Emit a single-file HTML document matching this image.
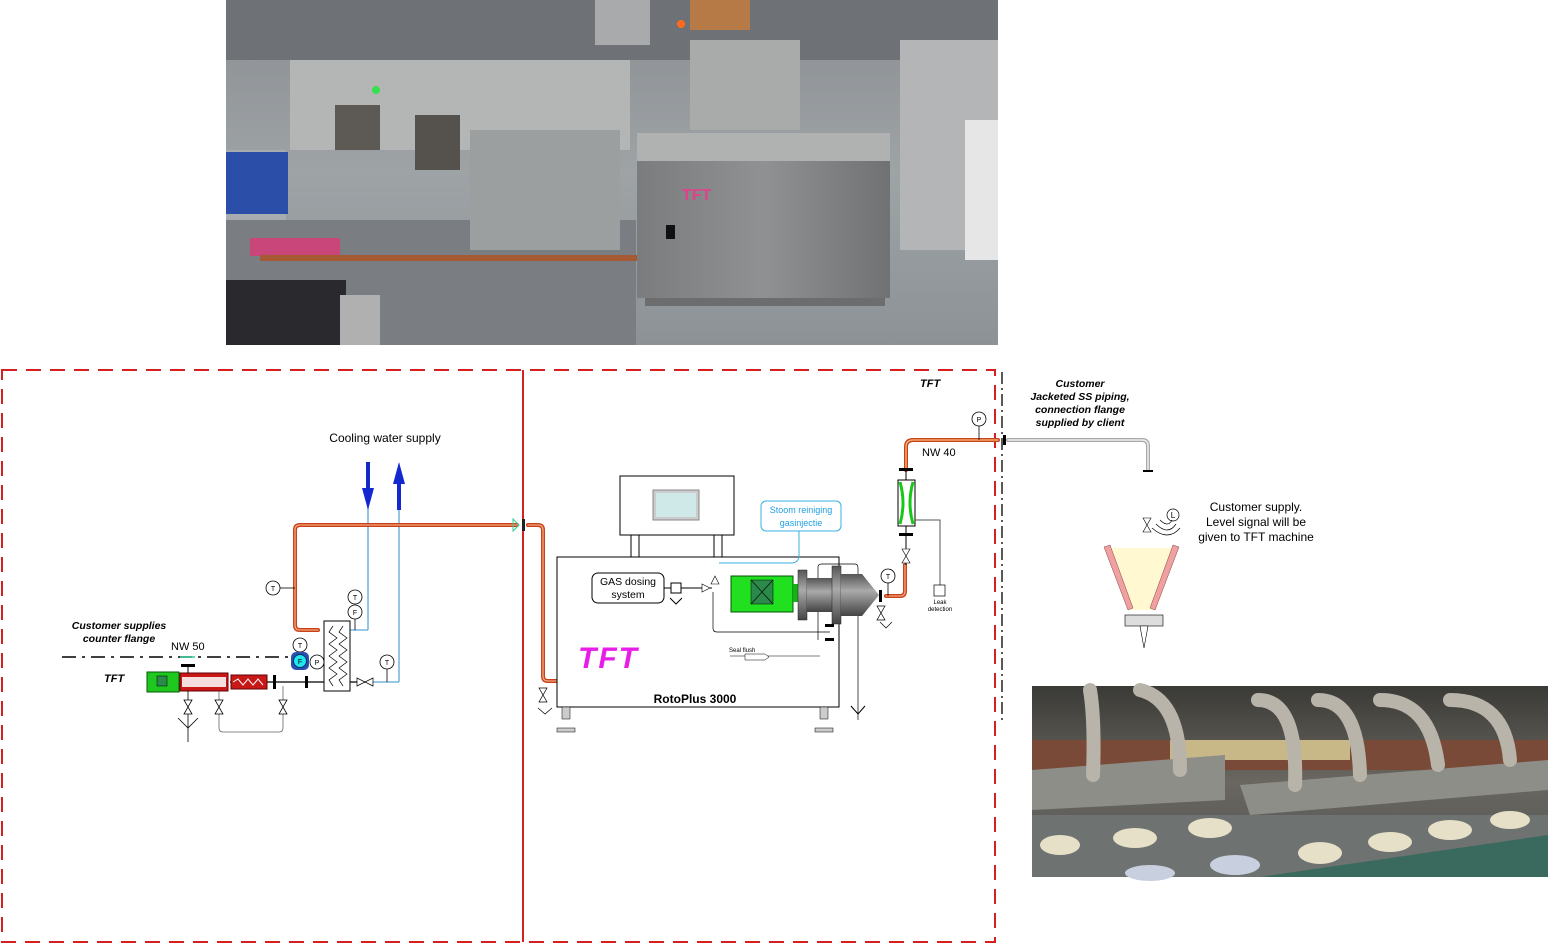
<!DOCTYPE html>
<html><head><meta charset="utf-8"><style>
html,body{margin:0;padding:0;background:#fff;width:1548px;height:945px;overflow:hidden}
svg{display:block}
text{font-family:"Liberation Sans",Arial,sans-serif}
</style></head><body>
<svg width="1548" height="945" viewBox="0 0 1548 945" xmlns="http://www.w3.org/2000/svg">
<defs>
<linearGradient id="bg1" x1="0" y1="0" x2="0" y2="1"><stop offset="0" stop-color="#8a8e92"/><stop offset="0.5" stop-color="#9ea3a6"/><stop offset="1" stop-color="#8c9296"/></linearGradient>
<linearGradient id="cab" x1="0" y1="0" x2="1" y2="0"><stop offset="0" stop-color="#7a7c7e"/><stop offset="0.5" stop-color="#8f9193"/><stop offset="1" stop-color="#6f7173"/></linearGradient>
<linearGradient id="bg2" x1="0" y1="0" x2="0" y2="1"><stop offset="0" stop-color="#3a3a36"/><stop offset="0.5" stop-color="#6a6660"/><stop offset="1" stop-color="#4f5553"/></linearGradient>
<linearGradient id="pump" x1="0" y1="0" x2="0" y2="1"><stop offset="0" stop-color="#555"/><stop offset="0.4" stop-color="#aaa"/><stop offset="1" stop-color="#444"/></linearGradient>
</defs>

<!-- top photo -->
<rect x="226" y="0" width="772" height="345" fill="url(#bg1)"/>
<rect x="226" y="0" width="772" height="60" fill="#6e7276"/>
<rect x="290" y="60" width="340" height="90" fill="#b4b6b6"/>
<rect x="226" y="150" width="60" height="110" fill="#a7acb0"/>
<rect x="226" y="152" width="62" height="62" fill="#2b4fa8"/>
<rect x="335" y="105" width="45" height="45" fill="#5d5a55"/>
<rect x="415" y="115" width="45" height="55" fill="#55524e"/>
<rect x="595" y="0" width="55" height="45" fill="#a8aaac"/>
<rect x="690" y="0" width="60" height="30" fill="#b57a45"/>
<rect x="690" y="40" width="110" height="90" fill="#a9aaaa"/>
<circle cx="681" cy="24" r="4" fill="#ff6a1f"/>
<circle cx="376" cy="90" r="4" fill="#36e04a"/>
<rect x="226" y="220" width="410" height="125" fill="#7a7e82"/>
<rect x="250" y="238" width="90" height="18" fill="#c8467a"/>
<rect x="260" y="255" width="380" height="6" fill="#a65a34"/>
<rect x="226" y="280" width="120" height="65" fill="#2a2a2e"/>
<rect x="340" y="295" width="40" height="50" fill="#b0b0b0"/>
<rect x="470" y="130" width="150" height="120" fill="#9c9fa0"/>
<rect x="637" y="133" width="253" height="165" fill="url(#cab)"/>
<rect x="637" y="133" width="253" height="28" fill="#b0b2b2"/>
<rect x="645" y="298" width="240" height="8" fill="#6b6d6f"/>
<text x="682" y="200" font-size="16" fill="#e2408a" font-weight="bold">TFT</text>
<rect x="666" y="225" width="9" height="14" fill="#111"/>
<rect x="900" y="40" width="98" height="210" fill="#b3b5b6"/>
<rect x="965" y="120" width="33" height="140" fill="#e6e6e6"/>

<!-- dashed boxes -->
<g fill="none" stroke="#d42020" stroke-width="2" stroke-dasharray="15,9">
<rect x="2" y="370" width="993" height="572"/>
</g>
<line x1="523" y1="370" x2="523" y2="942" stroke="#d42020" stroke-width="2"/>
<line x1="1002" y1="372" x2="1002" y2="722" stroke="#000" stroke-width="1.3" stroke-dasharray="12,4,2,4"/>
<line x1="62" y1="657" x2="292" y2="657" stroke="#000" stroke-width="1.5" stroke-dasharray="14,6,3,6"/>

<!-- texts -->
<text x="385" y="442" font-size="12" text-anchor="middle">Cooling water supply</text>
<text x="119" y="629" font-size="10.5" font-style="italic" font-weight="bold" text-anchor="middle">Customer supplies</text>
<text x="119" y="642" font-size="10.5" font-style="italic" font-weight="bold" text-anchor="middle">counter flange</text>
<text x="171" y="650" font-size="11">NW 50</text>
<text x="104" y="682" font-size="11" font-style="italic" font-weight="bold">TFT</text>
<text x="920" y="387" font-size="11" font-style="italic" font-weight="bold">TFT</text>
<g font-size="10.5" font-style="italic" font-weight="bold" text-anchor="middle">
<text x="1080" y="387">Customer</text><text x="1080" y="400">Jacketed SS piping,</text><text x="1080" y="413">connection flange</text><text x="1080" y="426">supplied by client</text></g>
<text x="922" y="456" font-size="11">NW 40</text>
<g font-size="12" text-anchor="middle"><text x="1256" y="511">Customer supply.</text><text x="1256" y="526">Level signal will be</text><text x="1256" y="541">given to TFT machine</text></g>

<!-- cooling water -->
<line x1="368" y1="490" x2="368" y2="630" stroke="#5aa6d6" stroke-width="1.3"/>
<line x1="399" y1="490" x2="399" y2="682" stroke="#5aa6d6" stroke-width="1.3"/>
<line x1="350" y1="630" x2="368" y2="630" stroke="#5aa6d6" stroke-width="1.3"/>
<line x1="372" y1="682" x2="399" y2="682" stroke="#5aa6d6" stroke-width="1.3"/>
<rect x="366" y="462" width="4" height="28" fill="#1428d0"/><polygon points="362,488 374,488 368,510" fill="#1428d0"/>
<rect x="397" y="482" width="4" height="28" fill="#1428d0"/><polygon points="393,484 405,484 399,462" fill="#1428d0"/>

<!-- orange pipes -->
<g fill="none" stroke-linejoin="round" stroke-linecap="round">
<path d="M318,630 H300 Q295,630 295,625 V530 Q295,525 300,525 H517" stroke="#c8411a" stroke-width="4"/>
<path d="M318,630 H300 Q295,630 295,625 V530 Q295,525 300,525 H517" stroke="#f5a77a" stroke-width="1.3"/>
<path d="M528,525 H538 Q543,525 543,530 V676 Q543,681 548,681 H824 Q829,681 829,676 V640" stroke="#c8411a" stroke-width="4"/>
<path d="M528,525 H538 Q543,525 543,530 V676 Q543,681 548,681 H824 Q829,681 829,676 V640" stroke="#f5a77a" stroke-width="1.3"/>
<path d="M886,596 H900 Q905,596 905,591 V565" stroke="#c8411a" stroke-width="4"/>
<path d="M886,596 H900 Q905,596 905,591 V565" stroke="#f5a77a" stroke-width="1.3"/>
<path d="M906,470 V447 Q906,440 913,440 H998" stroke="#c8411a" stroke-width="4"/>
<path d="M906,470 V447 Q906,440 913,440 H998" stroke="#f5c07a" stroke-width="1.3"/>
<path d="M1008,440 H1142 Q1148,440 1148,446 V470" stroke="#aaa" stroke-width="4"/>
<path d="M1008,440 H1142 Q1148,440 1148,446 V470" stroke="#eee" stroke-width="1.5"/>
</g>
<rect x="1003" y="435" width="3" height="10" fill="#000"/><line x1="1143" y1="471" x2="1153" y2="471" stroke="#000" stroke-width="2"/>
<rect x="522" y="519" width="3" height="12" fill="#222"/>
<polygon points="513,519 519,525 513,531" fill="none" stroke="#3c9"/>

<!-- instruments -->
<g fill="#fff" stroke="#000" stroke-width="0.8" font-size="7" text-anchor="middle">
<line x1="280" y1="588" x2="295" y2="588" stroke="#000"/><circle cx="273" cy="588" r="7"/><text x="273" y="591" stroke="none" fill="#000">T</text>
<line x1="355" y1="619" x2="355" y2="630"/><circle cx="355" cy="597" r="7"/><text x="355" y="600" stroke="none" fill="#000">T</text>
<circle cx="355" cy="612" r="7"/><text x="355" y="615" stroke="none" fill="#000">F</text>
<line x1="387" y1="669" x2="387" y2="682"/><circle cx="387" cy="662" r="7"/><text x="387" y="665" stroke="none" fill="#000">T</text>
<circle cx="300" cy="645" r="7"/><text x="300" y="648" stroke="none" fill="#000">T</text>
<circle cx="317" cy="662" r="7"/><text x="317" y="665" stroke="none" fill="#000">P</text>
<line x1="657" y1="670" x2="657" y2="681"/><circle cx="657" cy="662" r="7"/><text x="657" y="665" stroke="none" fill="#000">P</text>
<line x1="674" y1="670" x2="674" y2="681"/><circle cx="674" cy="662" r="7"/><text x="674" y="665" stroke="none" fill="#000">T</text>
<line x1="888" y1="583" x2="888" y2="596"/><circle cx="888" cy="576" r="7"/><text x="888" y="579" stroke="none" fill="#000">T</text>
<line x1="979" y1="426" x2="979" y2="440"/><circle cx="979" cy="419" r="7"/><text x="979" y="422" stroke="none" fill="#000">P</text>
</g>
<rect x="291" y="652" width="18" height="18" rx="5" fill="#2a4fb0"/><circle cx="300" cy="661" r="6.5" fill="#22e6ee" stroke="#036"/><text x="300" y="664" font-size="7" text-anchor="middle">F</text>

<!-- left process line -->
<line x1="230" y1="682" x2="372" y2="682" stroke="#000" stroke-width="1.2"/>
<rect x="147" y="672" width="32" height="20" fill="#1ec81e" stroke="#0a5a0a"/>
<rect x="157" y="676" width="10" height="10" fill="#2b8a4a" stroke="#000" stroke-width="0.5"/>
<rect x="180" y="673" width="48" height="18" fill="#c81818" stroke="#600"/>
<rect x="182" y="677" width="44" height="10" fill="#f5dede"/>
<rect x="231" y="675" width="36" height="14" fill="#c81818" stroke="#600"/>
<polyline points="233,682 238,679 243,685 248,679 253,685 258,679 263,685" fill="none" stroke="#fff"/>
<line x1="188" y1="665" x2="188" y2="673" stroke="#000"/><rect x="181" y="664" width="14" height="3" fill="#000"/>
<line x1="180" y1="657" x2="195" y2="657" stroke="#3c9" stroke-width="1.5"/>
<rect x="273" y="675" width="3" height="14" fill="#000"/><rect x="305" y="676" width="3" height="12" fill="#000"/>
<rect x="324" y="621" width="26" height="70" fill="#fff" stroke="#000"/>
<polyline points="333,626 329,632 337,638 329,644 337,650 329,656 337,662 329,668 337,674 329,680 333,686" fill="none" stroke="#000" stroke-width="0.7"/>
<polyline points="343,626 339,632 347,638 339,644 347,650 339,656 347,662 339,668 347,674 339,680 343,686" fill="none" stroke="#000" stroke-width="0.7"/>
<polygon points="357,678 357,686 365,682" fill="#fff" stroke="#000" stroke-width="0.7"/><polygon points="373,678 373,686 365,682" fill="#fff" stroke="#000" stroke-width="0.7"/>
<g stroke="#000" fill="#fff" stroke-width="0.8">
<line x1="188" y1="691" x2="188" y2="742"/><polyline points="178,718 188,728 198,718" fill="none"/>
<polygon points="184,700 192,700 188,707"/><polygon points="184,714 192,714 188,707"/>
<path d="M219,691 V728 Q219,732 223,732 H279 Q283,732 283,728 V686" fill="none" stroke="#666"/>
<polygon points="215,700 223,700 219,707"/><polygon points="215,714 223,714 219,707"/>
<polygon points="279,700 287,700 283,707"/><polygon points="279,714 287,714 283,707"/>
</g>

<!-- RotoPlus machine -->
<rect x="620" y="476" width="114" height="59" fill="#fff" stroke="#000"/>
<rect x="653" y="490" width="46" height="30" fill="#ccc" stroke="#888"/><rect x="656" y="493" width="40" height="24" fill="#cfe8e8"/>
<rect x="631" y="535" width="8" height="22" fill="#fff" stroke="#000"/><rect x="714" y="535" width="8" height="22" fill="#fff" stroke="#000"/>
<rect x="557" y="557" width="282" height="150" fill="#fff" stroke="#000"/>
<text x="695" y="703" font-size="12" font-weight="bold" text-anchor="middle">RotoPlus 3000</text>
<rect x="562" y="707" width="8" height="12" fill="#ccc" stroke="#000" stroke-width="0.5"/><rect x="557" y="728" width="18" height="4" fill="#ccc" stroke="#000" stroke-width="0.5"/>
<rect x="820" y="707" width="8" height="12" fill="#ccc" stroke="#000" stroke-width="0.5"/><rect x="815" y="728" width="18" height="4" fill="#ccc" stroke="#000" stroke-width="0.5"/>
<text x="578" y="668" font-size="30" font-weight="bold" font-style="italic" fill="#e81ee8" letter-spacing="2">TFT</text>
<rect x="592" y="573" width="72" height="30" rx="6" fill="#fff" stroke="#000"/>
<text x="628" y="585" font-size="10.5" text-anchor="middle">GAS dosing</text><text x="628" y="598" font-size="10.5" text-anchor="middle">system</text>
<line x1="664" y1="588" x2="712" y2="588" stroke="#000"/><rect x="671" y="583" width="10" height="10" fill="#fff" stroke="#000"/>
<polyline points="670,598 676,604 682,598 M676,604 V612 M676,593 V604" fill="none" stroke="#000"/>
<rect x="761" y="501" width="80" height="30" rx="5" fill="#fff" stroke="#39b0e0"/>
<text x="801" y="513" font-size="9" fill="#1f9fe0" text-anchor="middle">Stoom reiniging</text><text x="801" y="526" font-size="9" fill="#1f9fe0" text-anchor="middle">gasinjectie</text>
<path d="M799,531 V555 Q799,563 791,563 H719" fill="none" stroke="#39b0e0"/>
<path d="M713,592 V628 Q713,632 717,632 H830" fill="none" stroke="#000" stroke-width="0.7"/>
<path d="M818,640 V567 Q818,564 822,564 H855 Q858,564 858,568 V720" fill="none" stroke="#000" stroke-width="0.7"/>
<polyline points="851,706 858,714 865,706" fill="none" stroke="#000"/>
<rect x="731" y="576" width="62" height="36" fill="#20e020" stroke="#085008"/>
<rect x="751" y="580" width="22" height="24" fill="#2b8a4a" stroke="#000" stroke-width="0.5"/>
<path d="M751,580 L773,604 M773,580 L751,604" stroke="#000" stroke-width="0.6"/>
<rect x="793" y="584" width="5" height="18" fill="#18b018"/>
<rect x="798" y="570" width="9" height="50" fill="url(#pump)" stroke="#222" stroke-width="0.5"/>
<rect x="807" y="578" width="25" height="34" fill="url(#pump)"/>
<rect x="832" y="566" width="9" height="58" fill="url(#pump)" stroke="#222" stroke-width="0.5"/>
<polygon points="841,574 862,574 879,595 862,616 841,616" fill="url(#pump)"/>
<rect x="879" y="590" width="3" height="12" fill="#000"/>
<polygon points="702,584 702,592 710,588" fill="#fff" stroke="#000" stroke-width="0.6"/>
<polygon points="715,576 711,584 719,584" fill="#fff" stroke="#000" stroke-width="0.6"/>
<polyline points="730,656 820,656" fill="none" stroke="#000" stroke-width="0.6"/>
<text x="729" y="652" font-size="6">Seal flush</text>
<polygon points="745,654 765,654 769,657 765,660 745,660" fill="#fff" stroke="#000" stroke-width="0.5"/>
<rect x="825" y="624" width="9" height="3" fill="#000"/><rect x="825" y="638" width="9" height="3" fill="#000"/>
<g stroke="#000" fill="#fff" stroke-width="0.7">
<polygon points="877,606 885,606 881,613"/><polygon points="877,620 885,620 881,613"/>
<polyline points="880,622 886,628 892,622 M886,628 V636" fill="none"/>
<polygon points="539,688 547,688 543,695"/><polygon points="539,702 547,702 543,695"/>
<polyline points="538,708 545,714 552,708 M545,714 V722" fill="none"/>
</g>
<!-- right side instruments -->
<rect x="899" y="468" width="14" height="3" fill="#000"/><rect x="899" y="533" width="14" height="3" fill="#000"/>
<line x1="906" y1="471" x2="906" y2="480" stroke="#000"/><line x1="906" y1="526" x2="906" y2="565" stroke="#000"/>
<rect x="898" y="480" width="17" height="46" fill="#fff" stroke="#000"/>
<path d="M900,482 Q906,503 900,524 M913,482 Q907,503 913,524" fill="none" stroke="#18c818" stroke-width="3"/>
<path d="M915,520 H940 V585" fill="none" stroke="#555"/>
<rect x="934" y="585" width="11" height="11" fill="#fff" stroke="#000" stroke-width="0.7"/>
<text x="940" y="604" font-size="6" text-anchor="middle">Leak</text><text x="940" y="611" font-size="6" text-anchor="middle">detection</text>
<polygon points="902,549 910,549 906,556" fill="#fff" stroke="#000" stroke-width="0.6"/><polygon points="902,563 910,563 906,556" fill="#fff" stroke="#000" stroke-width="0.6"/>

<!-- hopper -->
<polygon points="1105,548 1178,548 1156,610 1128,610" fill="#fff8d0"/>
<polygon points="1104,547 1110,545 1133,608 1128,610" fill="#f0a0a0" stroke="#844" stroke-width="0.5"/>
<polygon points="1179,547 1173,545 1150,608 1155,610" fill="#f0a0a0" stroke="#844" stroke-width="0.5"/>
<rect x="1125" y="615" width="38" height="11" fill="#ddd" stroke="#000" stroke-width="0.6"/>
<polygon points="1140,626 1148,626 1144,648" fill="#fff" stroke="#000" stroke-width="0.6"/>
<circle cx="1173" cy="515" r="6" fill="#fff" stroke="#000" stroke-width="0.7"/><text x="1173" y="518" font-size="8" text-anchor="middle">L</text>
<path d="M1160,520 Q1168,528 1172,520 M1156,524 Q1168,536 1176,524 M1152,528 Q1168,542 1180,528" fill="none" stroke="#000" stroke-width="0.7"/>
<polygon points="1143,518 1151,518 1147,525" fill="#fff" stroke="#000" stroke-width="0.6"/><polygon points="1143,532 1151,532 1147,525" fill="#fff" stroke="#000" stroke-width="0.6"/>

<!-- bottom photo -->
<rect x="1032" y="686" width="516" height="191" fill="url(#bg2)"/>
<rect x="1032" y="740" width="516" height="30" fill="#7a4a38"/>
<rect x="1170" y="740" width="180" height="20" fill="#c8b888"/>
<polygon points="1032,770 1225,755 1225,800 1032,810" fill="#8e8e88"/>
<polygon points="1240,785 1548,760 1548,790 1250,815" fill="#8e8e88"/>
<rect x="1032" y="815" width="516" height="62" fill="#6e7270"/>
<polygon points="1260,877 1548,835 1548,877" fill="#3a6a5e"/>
<g fill="none" stroke="#b8b4aa" stroke-width="14" stroke-linecap="round">
<path d="M1090,690 Q1095,720 1093,775"/><path d="M1140,690 Q1180,700 1180,770"/>
<path d="M1258,700 Q1298,700 1295,785"/><path d="M1318,700 Q1358,700 1360,775"/>
<path d="M1380,700 Q1430,700 1438,765"/><path d="M1450,700 Q1505,700 1510,760"/>
</g>
<g fill="#e6e0c8"><ellipse cx="1060" cy="845" rx="20" ry="10"/><ellipse cx="1135" cy="838" rx="22" ry="10"/><ellipse cx="1210" cy="828" rx="22" ry="10"/><ellipse cx="1320" cy="853" rx="22" ry="11"/><ellipse cx="1390" cy="842" rx="22" ry="10"/><ellipse cx="1450" cy="830" rx="22" ry="10"/><ellipse cx="1510" cy="820" rx="20" ry="9"/></g>
<g fill="#c8d0e0"><ellipse cx="1150" cy="873" rx="25" ry="8"/><ellipse cx="1235" cy="865" rx="25" ry="10"/></g>
</svg>
</body></html>
